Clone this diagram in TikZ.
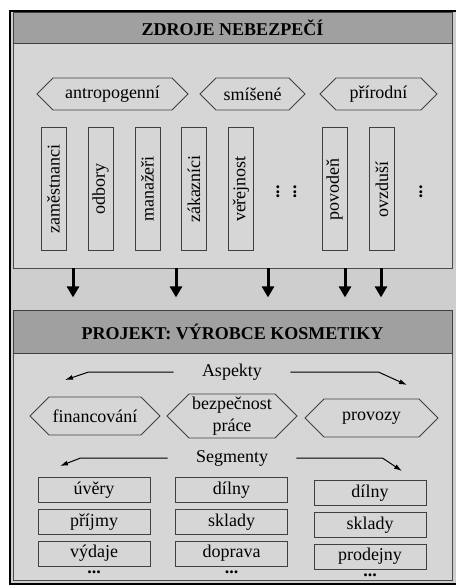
\documentclass[tikz,border=0pt]{standalone}
\usepackage{fontspec}
\setmainfont{Liberation Serif}
\usetikzlibrary{positioning,shapes.symbols,arrows.meta}
\definecolor{framebg}{RGB}{206,206,206}
\definecolor{headgray}{RGB}{160,160,160}
\definecolor{panelgray}{RGB}{214,214,214}
\tikzset{
  txt/.style={font=\fontsize{9}{11}\selectfont},
  header/.style={draw=black!75, fill=headgray, minimum width=219.5pt, inner sep=0pt,
    font=\fontsize{9}{11}\selectfont\bfseries},
  panel/.style={draw=black!70, fill=panelgray, minimum width=219.5pt, inner sep=0pt},
  hexa/.style={txt, draw=black!75, shape=signal, signal to=east and west,
    signal pointer angle=90, inner sep=1pt, align=center},
  vbox/.style={txt, draw=black!75, rotate=90, minimum width=61.5pt,
    minimum height=12.5pt, inner sep=1pt},
  sbox/.style={txt, draw=black!75, minimum width=56pt, minimum height=12.5pt, inner sep=1pt},
  dotsnode/.style={font=\fontsize{9}{11}\selectfont\bfseries, inner sep=1pt},
  caption/.style={txt, inner xsep=14pt, inner ysep=1pt},
  bigarrow/.style={line width=1.5pt, -{Triangle[width=6pt,length=5.5pt]}},
  thinarrow/.style={line width=0.5pt, -{Latex[length=4pt,width=2.5pt]}}
}
\begin{document}
\begin{tikzpicture}[x=0.5pt,y=-0.5pt]
  \useasboundingbox (0,0) rectangle (456,585);
  % Outer frame
  \draw[line width=1.3pt, fill=framebg] (10,11) rectangle (470,584);

  % First block: sources of danger
  \node[panel, minimum height=112.5pt] (zdroje) at (232.5,155.5) {};
  \node[header, minimum height=15.5pt] (zdrojehead) at (232.5,27.5) {ZDROJE NEBEZPEČÍ};
  % Kinds of sources
  \node[hexa, minimum width=75.5pt, minimum height=16pt] (antropo) at (112.5,94) {antropogenní};
  \node[hexa, minimum width=52.5pt, minimum height=16pt] (smisene) at (252.5,94) {smíšené};
  \node[hexa, minimum width=58.5pt, minimum height=16pt] (prirodni) at (378.5,94) {přírodní};
  % Single sources
  \foreach \x/\name/\word in {53.5/zam/zaměstnanci, 100.5/odb/odbory, 147.5/man/manažeři,
      194/zak/zákazníci, 241/ver/veřejnost, 334.5/pov/povodeň, 382/ovz/ovzduší}
    \node[vbox] (\name) at (\x,189) {\word};
  \foreach \x [count=\i] in {278,295,421}
    \node[dotsnode, rotate=90] (vdots\i) at (\x,192) {...};
  % Arrows down to the project
  \foreach \x in {73,176,268,345,381} {
    \coordinate (ax) at (\x,0);
    \draw[bigarrow] (zdroje.south -| ax) -- ++(0,29);
  }

  % Second block: the project
  \node[panel, minimum height=113.5pt] (projekt) at (232.5,466.5) {};
  \node[header, minimum height=21.5pt] (projekthead) at (232.5,331.5) {PROJEKT: VÝROBCE KOSMETIKY};
  % Aspects
  \node[caption] (aspekty) at (232,372) {Aspekty};
  \coordinate (aspL) at (65,380);
  \coordinate (aspR) at (407,385);
  \draw[thinarrow] (aspekty.west) -- ++(-85,0) -- (aspL);
  \draw[thinarrow] (aspekty.east) -- ++(88,0) -- (aspR);
  \node[hexa, minimum width=65pt, minimum height=19pt] (financ) at (95,416) {financování};
  \node[hexa, minimum width=65pt, minimum height=22pt] (bozp) at (232,416) {bezpečnost\\práce};
  \node[hexa, minimum width=66.5pt, minimum height=19pt] (provozy) at (371.5,418) {provozy};
  % Segments
  \node[caption] (segmenty) at (232,458) {Segmenty};
  \coordinate (segL) at (60,466);
  \coordinate (segR) at (402,471);
  \draw[thinarrow] (segmenty.west) -- ++(-87,0) -- (segL);
  \draw[thinarrow] (segmenty.east) -- ++(86,0) -- (segR);
  % Segments of financing
  \node[sbox] (uvery) at (94,490) {úvěry};
  \node[sbox, below=3pt of uvery] (prijmy) {příjmy};
  \node[sbox, below=3pt of prijmy] (vydaje) {výdaje};
  \node[dotsnode, below=1pt of vydaje] (dotsA) {...};
  % Segments of work safety
  \node[sbox] (dilnyA) at (231.5,490) {dílny};
  \node[sbox, below=3pt of dilnyA] (skladyA) {sklady};
  \node[sbox, below=3pt of skladyA] (doprava) {doprava};
  \node[dotsnode, below=1pt of doprava] (dotsB) {...};
  % Segments of operations
  \node[sbox] (dilnyB) at (370,493) {dílny};
  \node[sbox, below=3pt of dilnyB] (skladyB) {sklady};
  \node[sbox, below=3pt of skladyB] (prodejny) {prodejny};
  \node[dotsnode, below=1pt of prodejny] (dotsC) {...};
\end{tikzpicture}
\end{document}
